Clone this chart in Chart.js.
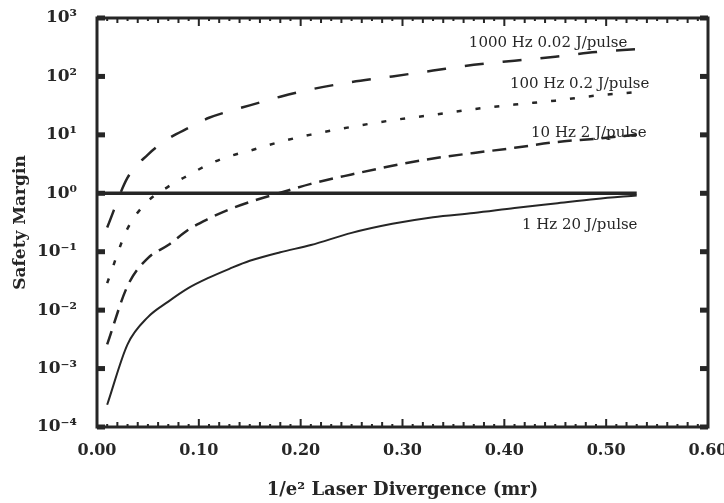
<!DOCTYPE html>
<html>
<head>
<meta charset="utf-8">
<script src="https://cdn.jsdelivr.net/npm/chart.js@4/dist/chart.umd.min.js"></script>
<style>
  html, body { margin: 0; padding: 0; background: #fff; }
  #wrap { width: 724px; height: 503px; }
</style>
</head>
<body>
<div id="wrap"><canvas id="chart" width="724" height="503"></canvas></div>
<script>
// Beam divergence (mr) where each curve was sampled
const divergence = [0.01, 0.03, 0.05, 0.07, 0.09, 0.11, 0.13, 0.15, 0.18, 0.21, 0.25, 0.29, 0.33, 0.37, 0.41, 0.45, 0.49, 0.53];

// Safety margin for each laser setting
const margin1000Hz = [0.26, 1.85, 4.6, 8.6, 13.2, 19.6, 25.5, 32, 45, 60, 80, 100, 126, 158, 186, 217, 262, 293];
const margin100Hz = [0.029, 0.25, 0.73, 1.3, 2.05, 3.15, 4.3, 5.35, 7.6, 10.1, 13.7, 17.8, 22, 27.5, 33, 38.5, 47, 54];
const margin10Hz = [0.0026, 0.026, 0.078, 0.13, 0.24, 0.37, 0.53, 0.71, 1.02, 1.45, 2.1, 2.95, 3.95, 4.9, 6.0, 7.5, 8.6, 10];
const margin1Hz = [0.00024, 0.0026, 0.0076, 0.014, 0.024, 0.036, 0.051, 0.070, 0.098, 0.13, 0.21, 0.30, 0.39, 0.46, 0.56, 0.67, 0.80, 0.92];

// Unity safety margin reference line
const unityX = [0, 0.53];
const unityY = [1, 1];

const seriesLabels = ['1000 Hz 0.02 J/pulse', '100 Hz 0.2 J/pulse', '10 Hz 2 J/pulse', '1 Hz 20 J/pulse'];

// Axis ticks
const xTicks = [0, 0.1, 0.2, 0.3, 0.4, 0.5, 0.6];
const yTicks = [1e-4, 1e-3, 1e-2, 1e-1, 1, 1e1, 1e2, 1e3];

// Where the curve names sit, in data units
const labelAt = [
    { x: 0.443, y: 370 },
    { x: 0.474, y: 74 },
    { x: 0.483, y: 10.7 },
    { x: 0.474, y: 0.286 }
];

const INK = '#262626';
const SERIF = "'DejaVu Serif', 'Liberation Serif', serif";

function pairs(xs, ys) {
    return xs.map((x, i) => ({ x: x, y: ys[i] }));
}

const SUP = { '-': '\u207B', '0': '\u2070', '1': '\u00B9', '2': '\u00B2', '3': '\u00B3', '4': '\u2074' };
function powerLabel(v) {
    let e = String(Math.round(Math.log10(v)));
    return '10' + e.split('').map(c => SUP[c]).join('');
}

/*
    Frame, inward ticks and the curve names
*/
const decorations = {
    id: 'decorations',
    afterDatasetsDraw(chart) {
        const ctx = chart.ctx;
        const a = chart.chartArea;
        const xs = chart.scales.x;
        const ys = chart.scales.y;
        ctx.save();
        ctx.strokeStyle = INK;
        ctx.fillStyle = INK;

        // top / bottom ticks every 0.01, longer every 0.1
        ctx.lineWidth = 2;
        for (let i = 0; i <= 60; i++) {
            let px = xs.getPixelForValue(i / 100);
            let len = i % 10 === 0 ? 8 : (i % 2 === 0 ? 5 : 3);
            ctx.beginPath();
            ctx.moveTo(px, a.top);
            ctx.lineTo(px, a.top + len);
            ctx.moveTo(px, a.bottom);
            ctx.lineTo(px, a.bottom - len);
            ctx.stroke();
        }

        // left / right decade ticks
        yTicks.forEach(v => {
            let py = ys.getPixelForValue(v);
            ctx.fillRect(a.left, py - 2.5, 8, 5);
            ctx.fillRect(a.right - 8, py - 2.5, 8, 5);
        });

        ctx.lineWidth = 3;
        ctx.strokeRect(a.left, a.top, a.right - a.left, a.bottom - a.top);

        ctx.font = '15px ' + SERIF;
        ctx.textAlign = 'center';
        ctx.textBaseline = 'middle';
        seriesLabels.forEach((t, i) => {
            ctx.fillText(t, xs.getPixelForValue(labelAt[i].x), ys.getPixelForValue(labelAt[i].y));
        });
        ctx.restore();
    }
};

const lineBase = { borderColor: INK, pointRadius: 0, fill: false, cubicInterpolationMode: 'monotone' };

new Chart(document.getElementById('chart').getContext('2d'), {
    type: 'line',
    data: {
        datasets: [
            Object.assign({ label: seriesLabels[0], data: pairs(divergence, margin1000Hz), borderWidth: 2.5, borderDash: [19, 19] }, lineBase),
            Object.assign({ label: seriesLabels[1], data: pairs(divergence, margin100Hz), borderWidth: 2.5, borderDash: [5, 14] }, lineBase),
            Object.assign({ label: seriesLabels[2], data: pairs(divergence, margin10Hz), borderWidth: 2.5, borderDash: [14, 8] }, lineBase),
            Object.assign({ label: seriesLabels[3], data: pairs(divergence, margin1Hz), borderWidth: 2 }, lineBase),
            Object.assign({ label: 'Unity', data: pairs(unityX, unityY), borderWidth: 3.5 }, lineBase)
        ]
    },
    options: {
        responsive: false,
        animation: false,
        layout: { padding: { top: 18, right: 16, left: 0, bottom: 0 } },
        plugins: { legend: { display: false }, tooltip: { enabled: false } },
        scales: {
            x: {
                type: 'linear',
                min: 0,
                max: 0.6,
                grid: { display: false, drawTicks: false },
                border: { display: false },
                afterBuildTicks: s => { s.ticks = xTicks.map(v => ({ value: v })); },
                afterFit: s => { s.height = 76; s.paddingLeft = 0; s.paddingRight = 0; },
                ticks: {
                    color: INK,
                    padding: 14,
                    maxRotation: 0,
                    font: { family: SERIF, size: 16, weight: 'bold' },
                    callback: v => Number(v).toFixed(2)
                },
                title: {
                    display: true,
                    text: '1/e\u00B2 Laser Divergence (mr)',
                    color: INK,
                    padding: { top: 0, bottom: 2 },
                    font: { family: SERIF, size: 18, weight: 'bold' }
                }
            },
            y: {
                type: 'logarithmic',
                min: 1e-4,
                max: 1e3,
                grid: { display: false, drawTicks: false },
                border: { display: false },
                afterBuildTicks: s => { s.ticks = yTicks.map(v => ({ value: v })); },
                afterFit: s => { s.width = 97; s.paddingTop = 0; s.paddingBottom = 0; },
                ticks: {
                    color: INK,
                    padding: 20,
                    font: { family: SERIF, size: 17, weight: 'bold' },
                    callback: v => powerLabel(v)
                },
                title: {
                    display: true,
                    text: 'Safety Margin',
                    color: INK,
                    padding: { top: 10, bottom: 0 },
                    font: { family: SERIF, size: 17, weight: 'bold' }
                }
            }
        }
    },
    plugins: [decorations]
});
</script>
</body>
</html>
